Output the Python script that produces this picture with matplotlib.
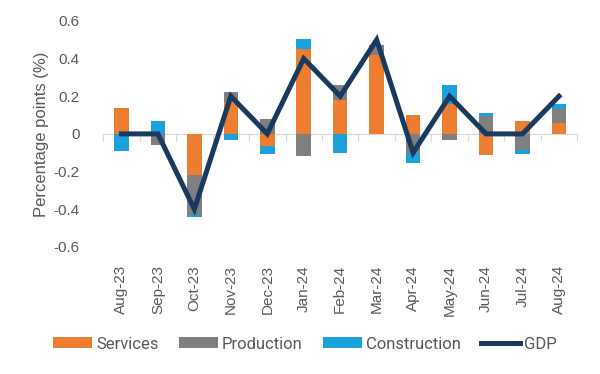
import matplotlib.pyplot as plt
import numpy as np

months = ['Aug-23', 'Sep-23', 'Oct-23', 'Nov-23', 'Dec-23', 'Jan-24', 'Feb-24',
          'Mar-24', 'Apr-24', 'May-24', 'Jun-24', 'Jul-24', 'Aug-24']
services = [0.14, 0.0, -0.22, 0.17, -0.065, 0.45, 0.18, 0.42, 0.10, 0.16, -0.11, 0.07, 0.06]
production = [0.0, -0.06, -0.21, 0.05, 0.08, -0.12, 0.08, 0.05, -0.10, -0.03, 0.095, -0.085, 0.07]
construction = [-0.09, 0.07, -0.01, -0.03, -0.04, 0.055, -0.10, 0.0, -0.055, 0.10, 0.015, -0.02, 0.03]
gdp = [0, 0, -0.4, 0.2, 0, 0.4, 0.2, 0.5, -0.1, 0.2, 0, 0, 0.2]

series = [('Services', services, '#ED7D31'),
          ('Production', production, '#7F7F7F'),
          ('Construction', construction, '#1BA1DC')]

plt.rcParams['font.family'] = ['Liberation Sans', 'DejaVu Sans']

fig = plt.figure(figsize=(6, 3.74), dpi=100)
ax = fig.add_axes([0.172, 0.340, 0.79, 0.604])

x = np.arange(len(months))
pos_base = np.zeros(len(months))
neg_base = np.zeros(len(months))
handles = []
for name, vals, col in series:
    v = np.array(vals)
    bottom = np.where(v >= 0, pos_base, neg_base)
    b = ax.bar(x, v, 0.4, bottom=bottom, color=col, label=name, zorder=2)
    handles.append(b)
    pos_base += np.where(v >= 0, v, 0)
    neg_base += np.where(v < 0, v, 0)

# GDP
line, = ax.plot(x, gdp, color='#173A5E', lw=3.6, label='GDP', zorder=3,
                solid_joinstyle='miter')
handles.append(line)

ax.set_xlim(-0.5, len(months) - 0.5)
ax.set_ylim(-0.6, 0.6)
ax.set_yticks(np.arange(-0.6, 0.61, 0.2))
ax.set_yticklabels(['-0.6', '-0.4', '-0.2', '0', '0.2', '0.4', '0.6'])
ax.tick_params(axis='y', length=0, pad=17, labelsize=11, labelcolor='#595959')
ax.set_ylabel('Percentage points (%)', fontsize=12, color='#595959', labelpad=3)

for s in ['top', 'right', 'left']:
    ax.spines[s].set_visible(False)
ax.spines['bottom'].set_position(('data', 0))
ax.spines['bottom'].set_color('#D9D9D9')
ax.spines['bottom'].set_zorder(1)
ax.set_xticks(np.arange(-0.5, len(months), 1))
ax.set_xticklabels([])
ax.tick_params(axis='x', length=5, color='#D9D9D9', direction='out')

# month labels sit below the plot, not on the zero line
sec = ax.secondary_xaxis('bottom')
sec.set_xticks(x, months, rotation=90)
sec.tick_params(length=0, pad=13, labelsize=11, labelcolor='#595959')
sec.spines['bottom'].set_visible(False)

fig.legend(handles=handles, loc='center', bbox_to_anchor=(0.508, 0.08), ncol=4,
           frameon=False, handlelength=2.35, handleheight=0.6, handletextpad=0.25,
           columnspacing=1.2, prop={'family': 'Roboto', 'size': 12},
           labelcolor='#595959')

plt.savefig('out.png', dpi=100)
